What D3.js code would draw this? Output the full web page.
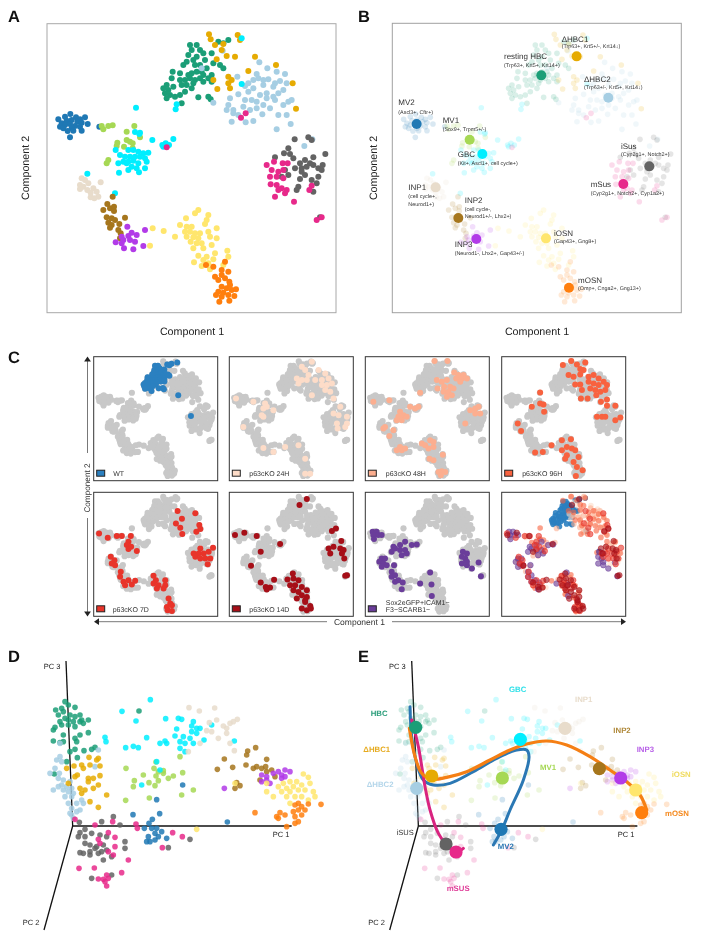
<!DOCTYPE html>
<html><head><meta charset="utf-8">
<script src="https://d3js.org/d3.v7.min.js"></script>
<style>html,body{margin:0;padding:0;background:#fff}svg{display:block;filter:blur(.35px)}text{font-family:"Liberation Sans",Arial,sans-serif;text-rendering:geometricPrecision}</style>
</head><body><svg id="c" width="704" height="940"></svg>
<script>
// ---- t-SNE embedding, per cluster
const tsneHBC=[[570,135],[590,135],[575,150],[600,150],[565,165],[590,170],[610,160],[635,160],[580,180],[560,185],[550,195],[585,195],[600,195],[615,180],[640,190],[660,195],[670,205],[620,205],[605,215],[590,215],[575,220],[565,225],[540,220],[518,215],[515,235],[540,240],[555,240],[570,235],[585,240],[600,235],[610,225],[635,225],[625,235],[610,245],[580,250],[560,255],[545,255],[575,265],[520,260],[500,255],[490,265],[505,270],[495,280],[510,285],[525,290],[540,285],[555,275],[595,292],[625,290],[632,298],[545,310],[635,245],[655,125],[670,130],[685,120],[500,295]];
const tsneHBC1=[[627,103],[632,118],[645,135],[670,132],[713,105],[720,120],[665,150],[680,168],[705,170],[650,178],[765,170],[828,195],[745,213],[640,240],[685,230],[695,240],[685,250],[690,265],[652,267],[878,250],[888,326]];
const tsneHBC2=[[668,152],[778,187],[605,205],[712,230],[802,205],[830,215],[855,222],[770,222],[760,240],[745,250],[735,258],[775,235],[790,240],[805,238],[825,250],[840,243],[860,250],[820,260],[790,255],[760,265],[745,275],[715,283],[690,295],[780,285],[800,280],[820,290],[835,280],[850,270],[800,295],[770,305],[755,300],[735,300],[640,308],[685,315],[730,320],[700,330],[680,330],[700,340],[715,345],[750,330],[770,325],[790,315],[810,325],[825,300],[850,315],[865,305],[875,300],[787,343],[835,345],[860,345],[695,365],[737,367],[760,363],[830,388],[872,372],[913,438],[937,418]];
const tsneMV2=[[175,358],[195,350],[211,342],[228,352],[240,358],[255,352],[185,370],[200,362],[215,360],[232,365],[245,368],[263,372],[180,380],[195,375],[210,372],[225,378],[240,380],[190,385],[215,385],[203,393],[220,392],[245,392],[210,412],[298,380]];
const tsneMV1=[[305,378],[310,388],[325,378],[338,376],[403,378],[380,395],[352,428],[350,438],[380,420],[390,425],[372,440],[398,430],[420,412],[325,480],[320,490],[398,445]];
const tsneGBC=[[408,323],[530,313],[527,328],[725,115],[725,252],[262,521],[345,580],[405,396],[420,398],[418,402],[457,420],[520,417],[487,435],[497,430],[507,435],[490,440],[347,450],[360,465],[385,450],[400,450],[415,455],[430,460],[445,458],[375,470],[390,470],[405,470],[420,470],[435,475],[370,485],[385,485],[400,482],[415,490],[440,485],[355,490],[380,490],[395,500],[410,505],[385,510],[357,518],[417,517],[435,505]];
const tsneINP1=[[245,535],[255,540],[240,555],[250,560],[265,550],[240,567],[262,570],[280,565],[272,578],[290,575],[272,592],[295,590],[283,595],[302,547]];
const tsneINP2=[[338,590],[322,612],[310,630],[330,625],[342,620],[342,633],[320,652],[335,655],[345,660],[375,653],[325,668],[335,675],[330,683],[358,672],[355,690],[362,700],[360,715]];
const tsneINP3=[[382,680],[435,690],[395,698],[410,705],[365,710],[385,708],[370,720],[390,720],[405,725],[347,727],[365,730],[372,745],[400,748],[430,738]];
const tsneIOSN=[[595,630],[585,640],[558,655],[625,645],[620,660],[615,672],[540,675],[458,685],[491,693],[450,737],[560,680],[575,680],[555,695],[570,695],[585,700],[600,700],[625,695],[650,685],[525,710],[560,710],[580,712],[595,715],[630,710],[650,715],[572,725],[590,730],[605,730],[580,745],[610,745],[635,735],[682,752],[645,760],[595,767],[620,770],[640,778],[685,770],[582,787],[610,780],[625,790],[605,798],[630,808],[670,795]];
const tsneMOSN=[[675,785],[618,795],[640,800],[665,810],[685,815],[645,830],[665,825],[675,835],[655,840],[688,845],[690,855],[665,860],[680,865],[655,875],[670,878],[695,870],[708,868],[648,885],[665,890],[685,885],[703,888],[688,902],[658,905]];
const tsneMSUS=[[723,353],[737,340],[500,442],[800,495],[822,485],[848,490],[863,490],[815,510],[835,515],[850,510],[810,530],[830,530],[850,535],[812,553],[830,555],[845,565],[860,570],[835,570],[825,590],[855,580],[935,557],[928,570],[882,605],[950,660],[965,652]];
const tsneISUS=[[884,418],[925,412],[935,420],[865,445],[852,460],[870,462],[880,475],[825,472],[940,472],[976,462],[915,480],[930,490],[900,490],[885,505],[905,505],[920,500],[940,495],[955,505],[968,495],[965,510],[855,510],[845,530],[865,525],[905,515],[915,525],[900,537],[935,540],[955,530],[950,550],[895,560],[890,570],[940,575],[960,652]];
const tsneOrder=[tsneHBC,tsneHBC2,tsneHBC1,tsneMV2,tsneMV1,tsneGBC,tsneINP1,tsneINP2,tsneINP3,tsneIOSN,tsneMOSN,tsneISUS,tsneMSUS];
const orderColors=["#1b9e77","#a6cee3","#e6ab02","#1f78b4","#a6d854","#00eeff","#e8dccb","#a6761d","#b23be8","#ffe66d","#ff7f0e","#636363","#e7298a"];
// cluster centres on the embedding, same order
const tsneCentres=[[588,226],[789,293],[694,169],[214,372],[373,419],[411,462],[271,562],[339,654],[393,717],[602,715],[671,863],[912,499],[834,552]];
// ---- experimental conditions on the embedding
const wtExtra=[[725,111],[732,341],[821,486]];
const ko24=[[905,65],[935,50],[915,75],[925,90],[890,100],[905,105],[920,105],[945,105],[895,115],[955,75],[975,85],[965,105],[985,100],[965,120],[980,120],[995,115],[975,135],[990,140],[935,150],[1000,160],[1020,185],[1000,205],[1015,210],[1040,215],[1040,235],[1010,235],[1012,250],[1035,245],[708,160],[760,170],[795,175],[790,190],[800,185],[820,195],[785,210],[790,215],[730,245],[790,308],[820,320],[855,305],[895,300],[915,340],[915,385],[930,385]];
const ko48=[[253,48],[292,48],[312,82],[325,90],[340,90],[318,100],[335,100],[350,100],[330,110],[260,105],[275,110],[290,105],[262,130],[282,125],[300,125],[280,140],[295,140],[310,130],[290,155],[305,150],[210,143],[375,190],[385,185],[360,195],[375,205],[390,205],[345,235],[70,170],[118,165],[150,200],[160,210],[145,215],[170,215],[155,225],[180,185],[205,185],[195,190],[140,225],[100,250],[105,245],[118,272],[130,255],[150,305],[140,315],[155,315],[165,310],[215,295],[225,300],[240,285],[250,290],[235,310],[250,305],[278,328],[238,340],[250,345],[275,378],[265,380],[285,380],[272,390]];
const ko96=[[663,48],[638,60],[680,58],[705,52],[690,72],[700,75],[655,90],[670,95],[690,88],[675,118],[690,118],[715,95],[730,90],[745,100],[760,110],[715,110],[730,115],[745,120],[770,120],[720,130],[735,135],[750,140],[765,135],[695,135],[692,160],[712,160],[752,170],[770,163],[738,150],[770,182],[795,182],[740,215],[755,215],[765,215],[795,225],[810,217],[570,142],[570,175],[580,178],[545,185],[582,200],[503,235],[513,257],[604,300],[555,322],[578,320],[635,285],[662,282],[650,305],[665,310],[635,315],[675,315],[650,330],[645,340],[685,335],[670,350],[680,365],[697,375],[677,392]];
const ko7d=[[532,498],[585,505],[545,521],[527,535],[540,548],[597,540],[600,552],[588,560],[546,567],[297,565],[323,578],[350,573],[365,573],[392,573],[385,590],[380,600],[393,605],[385,612],[410,618],[332,635],[343,645],[335,655],[345,660],[600,610],[580,625],[595,625],[610,625],[625,620],[638,608],[585,635],[600,640],[615,640],[630,640],[622,657],[362,680],[360,695],[370,710],[385,705],[405,707],[375,720],[395,718],[460,692],[467,705],[495,705],[460,715],[475,720],[495,720],[470,730],[490,730],[505,760],[510,775],[500,785],[515,780],[502,795],[515,797]];
const ko14d=[[920,462],[898,480],[1007,550],[995,558],[705,570],[733,563],[770,573],[840,597],[782,620],[753,662],[1023,588],[985,610],[1000,605],[1020,610],[1030,615],[990,625],[1025,625],[1032,640],[1040,690],[1035,692],[782,712],[797,725],[810,727],[800,733],[822,704],[878,685],[862,703],[880,700],[895,705],[870,720],[885,720],[905,725],[880,735],[895,740],[920,735],[905,750],[890,760],[920,755],[915,770],[930,782],[905,790],[920,795],[932,790],[915,765]];
const sox=[[68,560],[80,560],[70,570],[85,570],[95,570],[72,582],[130,605],[125,620],[135,610],[150,600],[165,590],[185,600],[200,598],[150,615],[165,615],[155,630],[170,625],[95,640],[105,640],[88,650],[100,655],[110,660],[95,665],[132,660],[125,680],[125,695],[135,690],[145,705],[135,710],[158,712],[155,732],[240,682],[210,715],[244,718],[245,752],[338,620],[350,625],[335,635],[345,640],[335,655],[350,660],[365,670],[385,652],[392,693],[350,650]];
const condLabels=[["WT"],["p63cKO 24H"],["p63cKO 48H"],["p63cKO 96H"],["p63cKO 7D"],["p63cKO 14D"],["Sox2eGFP+ICAM1−","F3−SCARB1−"]];
const condColors=["#2b80c0","#fddcc8","#fcae8f","#f8623f","#e8342a","#a60f18","#6a3d9a"];
// ---- PCA projection, per cluster
const pcaHBC=[[195,185],[205,195],[185,205],[167,210],[225,202],[190,215],[175,225],[210,225],[225,230],[240,225],[195,235],[180,245],[205,240],[220,245],[245,240],[265,240],[240,245],[165,262],[160,270],[185,255],[205,255],[225,260],[250,250],[265,278],[190,285],[240,285],[225,295],[160,303],[190,305],[230,305],[180,308],[210,335],[225,328],[252,332],[285,322],[275,328],[200,365],[232,353],[163,402],[417,213]];
const pcaHBC1=[[267,352],[295,355],[290,360],[245,375],[250,385],[270,375],[222,378],[200,385],[300,378],[232,405],[225,410],[265,415],[280,415],[300,407],[265,425],[205,430],[295,435],[240,445],[245,460],[255,450],[320,465],[270,485],[295,502],[280,445]];
const pcaHBC2=[[180,350],[170,360],[185,365],[285,380],[165,385],[150,400],[178,400],[175,415],[190,420],[210,425],[185,435],[175,440],[200,440],[215,445],[160,450],[190,450],[205,455],[220,460],[195,470],[215,470],[245,480],[205,490],[230,490],[250,490],[215,505],[240,510],[210,520],[230,515],[215,525],[220,535],[295,330],[180,310]];
const pcaISUS=[[238,547],[305,545],[340,530],[360,555],[255,568],[240,578],[235,590],[275,580],[255,590],[320,590],[300,585],[255,610],[270,615],[290,620],[310,615],[240,638],[250,640],[270,635],[285,625],[270,645],[295,640],[305,635],[320,630],[375,605],[375,625],[335,650],[310,660],[275,715],[335,705],[505,623],[570,598]];
const pcaMSUS=[[225,538],[285,555],[338,545],[408,552],[412,565],[325,578],[345,592],[295,598],[300,610],[345,620],[325,635],[340,645],[385,660],[237,685],[283,684],[365,698],[295,717],[310,718],[320,705],[325,715],[315,725],[320,738],[518,578],[547,590],[487,623]];
const pcaMV2=[[399,524],[479,521],[470,479],[548,435],[682,546],[457,538],[447,550],[433,565],[455,565],[470,565],[485,575],[500,595],[465,580],[445,590],[475,590],[440,605],[450,605],[465,600]];
const pcaMV1=[[378,385],[468,366],[462,385],[475,395],[490,400],[430,405],[468,408],[520,408],[505,415],[548,398],[403,422],[447,428],[475,422],[400,440],[465,437],[580,450],[545,465],[377,481],[448,474],[540,350],[490,392]];
const pcaGBC=[[451,179],[366,214],[408,243],[497,236],[535,235],[545,238],[580,245],[590,265],[575,258],[600,265],[530,267],[575,275],[590,280],[315,292],[318,305],[440,293],[525,288],[550,290],[570,295],[495,303],[480,310],[500,310],[540,305],[555,310],[580,310],[612,300],[703,303],[377,323],[400,319],[415,323],[540,325],[555,335],[470,365],[480,390],[425,435],[635,255]];
const pcaINP1=[[567,203],[598,213],[644,204],[628,248],[650,240],[712,238],[700,245],[690,250],[670,258],[680,265],[620,272],[635,275],[680,280],[655,295],[690,310],[600,310],[703,332],[565,335]];
const pcaINP2=[[743,333],[767,323],[740,345],[673,357],[800,358],[738,375],[770,380],[785,385],[797,380],[698,382],[652,388],[800,395],[815,390],[760,385],[825,410],[710,428],[720,437],[705,445],[780,420]];
const pcaINP3=[[673,445],[855,390],[870,395],[835,395],[785,405],[800,410],[820,400],[845,405],[855,410],[800,420],[810,430],[785,425],[845,415]];
const pcaIOSN=[[910,402],[925,412],[930,430],[705,430],[590,568],[870,425],[890,425],[850,430],[835,440],[860,445],[880,440],[905,435],[845,455],[870,455],[895,450],[915,450],[940,455],[800,455],[820,470],[860,470],[885,470],[905,470],[945,470],[925,480],[870,490],[800,430]];
const pcaMOSN=[[963,493],[765,518],[925,492],[895,490],[885,495],[905,500],[895,510],[915,510],[880,515],[840,518],[830,530],[855,525],[885,530],[905,525],[835,535],[895,545],[860,560],[885,550]];
const pcaOrder=[pcaHBC,pcaHBC2,pcaHBC1,pcaMV2,pcaMV1,pcaGBC,pcaINP1,pcaINP2,pcaINP3,pcaIOSN,pcaMOSN,pcaISUS,pcaMSUS];
const pcaCentres=[[210,262],[213,445],[258,408],[466,568],[470,414],[524,298],[658,265],[761,386],[825,414],[870,450],[888,518],[301,612],[331,636]];
// lineage curves in PCA projection
const trajMV=[[193,200],[198,290],[213,370],[233,420],[263,435],[313,430],[383,395],[453,355],[513,330],[543,330],[550,350],[533,420],[493,510],[468,570],[443,615]];
const trajSus=[[198,240],[218,320],[238,440],[253,510],[278,580],[303,615],[331,636],[353,625]];
const trajOSN=[[191,265],[208,350],[228,400],[258,418],[303,412],[363,395],[433,360],[493,330],[543,312],[603,303],[663,315],[733,350],[793,390],[843,425],[883,465],[903,510]];
// ---- label texts
const bNames=["resting HBC","ΔHBC1","ΔHBC2","MV2","MV1","GBC","INP1","INP2","INP3","iOSN","mOSN","iSus","mSus"];
const bSubs=[["(Trp63+, Krt5+, Krt14+)"],["(Trp63+, Krt5+/-, Krt14↓)"],["(Trp63+/-, Krt5+, Krt14↓)"],["(Ascl3+, Cftr+)"],["(Sox9+, Trpm5+/-)"],["(Kit+, Ascl1+, cell cycle+)"],["(cell cycle+,","Neurod1+)"],["(cell cycle-,","Neurod1+/-, Lhx2+)"],["(Neurod1-, Lhx2+, Gap43+/-)"],["(Gap43+, Gng8+)"],["(Omp+, Cnga2+, Gng13+)"],["(Cyp2g1+, Notch2+)"],["(Cyp2g1+, Notch2+, Cyp1a2+)"]];
const eNames=["HBC","ΔHBC1","ΔHBC2","GBC","INP1","INP2","INP3","iOSN","mOSN","MV1","MV2","mSUS"];
const eColors=["#2a9d7a","#e6ab20","#b4d6ea","#2fe0e8","#e8dccb","#b08a3c","#b860e8","#f0dc60","#f58a20","#a6d854","#2b78b4","#e0409a"];

const svg=d3.select("#c");
const x0=d3.scaleLinear().domain([141,1008]);
const y0=d3.scaleLinear().domain([71,938]);
function dots(g,pts,x,y,r,fill,op){
  g.append("g").selectAll("circle").data(pts).join("circle")
   .attr("cx",d=>x(d[0])).attr("cy",d=>y(d[1])).attr("r",r).attr("fill",fill).attr("fill-opacity",op==null?1:op);
}
function txt(g,x,y,s,size,o={}){
  return g.append("text").attr("x",x).attr("y",y).attr("font-size",size).attr("fill",o.fill||"#222")
   .attr("font-weight",o.weight||null).attr("text-anchor",o.anchor||"start").attr("transform",o.rot?`rotate(${o.rot} ${x} ${y})`:null).text(s);
}
function frame(g,x,y,w,h,c,sw){g.append("rect").attr("x",x).attr("y",y).attr("width",w).attr("height",h).attr("fill","none").attr("stroke",c).attr("stroke-width",sw);}
// panel letters
[["A",8,22],["B",358,22],["C",8,363],["D",8,662],["E",358,662]].forEach(p=>txt(svg,p[1],p[2],p[0],16.5,{weight:"bold",fill:"#111"}));

// ---- A
const xA=x0.copy().range([47,336]),yA=y0.copy().range([23.7,312.7]);
const gA=svg.append("g");
tsneOrder.forEach((p,i)=>dots(gA,p,xA,yA,3,orderColors[i]));
frame(gA,47,23.7,289,289,"#a8a8a8",1);
txt(gA,192,335,"Component 1",10.7,{anchor:"middle"});
txt(gA,29,168,"Component 2",10.7,{anchor:"middle",rot:-90});

// ---- B
const xB=x0.copy().range([392.3,681.3]),yB=yA;
const gB=svg.append("g");
tsneOrder.forEach((p,i)=>dots(gB,p,xB,yB,2.8,orderColors[i],0.17));
tsneOrder.forEach((p,i)=>dots(gB,[tsneCentres[i]],xB,yB,5,orderColors[i]));
frame(gB,392.3,23.3,289,289.4,"#a0a0a0",1);
txt(gB,537,335,"Component 1",10.7,{anchor:"middle"});
txt(gB,376.5,168,"Component 2",10.7,{anchor:"middle",rot:-90});
// label anchors: [x, nameBaseline, first sub baseline]  (crop coordinates)
const anchors=[[462,178,200],[635,125,145],[702,246,268],[145,315,343],[278,370,392],[323,472,495],[175,570,595],[344,610,633],[314,742,765],[612,708,730],[684,848,870],[813,447,468],[722,562,585]];
bNames.forEach((n,i)=>{
  const a=anchors[i],px=350+a[0]/3;
  txt(gB,px,a[1]/3,n,8,{fill:"#333"});
  bSubs[i].forEach((s,j)=>txt(gB,px,(a[2]+j*22)/3,s,5.4,{fill:"#333"}));
});

// ---- C
const allT=tsneOrder.flat();
const cond=[tsneHBC.concat(wtExtra),ko24,ko48,ko96,ko7d,ko14d,sox];
const origin=[null,[688,35],[46,35],[455,35],[281,442],[688,442],[46,442]];
const panelX=[93.7,229.3,365.3,501.7],panelY=[356.7,492.3],pw=124;
function condScales(i,px,py){
  if(i===0) return [x0.copy().range([px,px+pw]),y0.copy().range([py,py+pw])];
  const o=origin[i];
  return [d3.scaleLinear().domain([o[0],o[0]+371]).range([px,px+pw]),d3.scaleLinear().domain([o[1],o[1]+371]).range([py,py+pw])];
}
const gC=svg.append("g");
const panelOrder=[[0,0,0],[1,1,0],[2,2,0],[3,3,0],[4,0,1],[5,1,1],[6,2,1]];
panelOrder.forEach(([i,cx,cy])=>{
  const px=panelX[cx],py=panelY[cy];
  const bx=x0.copy().range([px,px+pw]),by=y0.copy().range([py,py+pw]);
  dots(gC,allT,bx,by,3.1,"#c8c8c8");
  const [sx,sy]=condScales(i,px,py);
  dots(gC,cond[i],sx,sy,3,condColors[i]);
  frame(gC,px,py,pw,pw,"#333",1);
  gC.append("rect").attr("x",px+3).attr("y",py+113.5).attr("width",8).attr("height",6).attr("fill",condColors[i]).attr("stroke","#222").attr("stroke-width",1);
  const lab=condLabels[i];
  const tx=px+[19.5,20,20.5,20.5,19,20,20.5][i];
  if(lab.length===1) txt(gC,tx,py+119.5,lab[0],7,{fill:"#333"});
  else lab.forEach((s,j)=>txt(gC,tx,py+112.5+j*7.6,s,7,{fill:"#333"}));
});
// overlay panel
{
  const px=panelX[3],py=panelY[1];
  [0,1,2,3,6,4,5].forEach(i=>{
    const [sx,sy]=condScales(i,px,py);
    gC.append("g").selectAll("circle").data(cond[i]).join("circle")
      .attr("cx",d=>sx(d[0])).attr("cy",d=>sy(d[1])).attr("r",2.8).attr("fill",condColors[i]).attr("fill-opacity",i===0?0.9:0.6)
      .attr("stroke",i>=4?condColors[i]:"none").attr("stroke-opacity",.8).attr("stroke-width",.6);
  });
  frame(gC,px,py,pw,pw,"#333",1);
}
// arrows
function arrow(g,x,y,dir){const s=3.4,l=5;
  const p={up:[[x,y],[x-s,y+l],[x+s,y+l]],down:[[x,y],[x-s,y-l],[x+s,y-l]],left:[[x,y],[x+l,y-s],[x+l,y+s]],right:[[x,y],[x-l,y-s],[x-l,y+s]]}[dir];
  g.append("path").attr("d",d3.line()(p)+"Z").attr("fill","#222");
}
function hair(g,a,b,c,d){g.append("line").attr("x1",a).attr("y1",b).attr("x2",c).attr("y2",d).attr("stroke","#555").attr("stroke-width",.8);}
hair(gC,87.5,360,87.5,453);hair(gC,87.5,518,87.5,612);
hair(gC,98,621.7,327,621.7);hair(gC,392,621.7,622,621.7);
arrow(gC,87.5,356.5,"up");arrow(gC,87.5,616.5,"down");arrow(gC,94,621.7,"left");arrow(gC,626,621.7,"right");
txt(gC,90,488,"Component 2",8.2,{anchor:"middle",rot:-90,fill:"#333"});
txt(gC,359.5,624.5,"Component 1",8.5,{anchor:"middle",fill:"#333"});

// ---- D / E
const yP=d3.scaleLinear().domain([0,900]).range([640,940]);
const xD=d3.scaleLinear().domain([0,1050]).range([0,350]);
const xE=d3.scaleLinear().domain([0,1050]).range([345.7,695.7]);
function pcAxes(g,x){
  const seg=(a,b)=>g.append("path").attr("d",d3.line()([[x(a[0]),yP(a[1])],[x(b[0]),yP(b[1])]])).attr("stroke","#111").attr("stroke-width",1.3).attr("fill","none");
  seg([198,63],[218,558]);seg([218,558],[875,558]);seg([218,558],[132,870]);
}
const gD=svg.append("g");
pcAxes(gD,xD);
pcaOrder.forEach((p,i)=>dots(gD,p,xD,yP,2.8,orderColors[i],0.85));
txt(gD,xD(131),yP(88),"PC 3",7.5,{fill:"#222"});
txt(gD,xD(818),yP(590),"PC 1",7.5,{fill:"#222"});
txt(gD,xD(68),yP(856),"PC 2",7.5,{fill:"#222"});

const gE=svg.append("g");
pcAxes(gE,xE);
pcaOrder.forEach((p,i)=>dots(gE,p,xE,yP,2.8,orderColors[i],0.2));
const lin=d3.line().x(d=>xE(d[0])).y(d=>yP(d[1])).curve(d3.curveCatmullRom.alpha(.5));
[[trajMV,"#2b78b4",3],[trajSus,"#d9237f",3],[trajOSN,"#f57f14",3.2]].forEach(t=>
  gE.append("path").attr("d",lin(t[0])).attr("fill","none").attr("stroke",t[1]).attr("stroke-width",t[2]).attr("stroke-linecap","round"));
pcaCentres.forEach((c,i)=>dots(gE,[c],xE,yP,6.6,orderColors[i]));
const eAnchors=[[75,227],[53,335],[63,442],[490,157],[688,185],[803,279],[873,337],[978,412],[958,527],[583,391],[456,627],[303,752]];
eNames.forEach((n,i)=>txt(gE,xE(eAnchors[i][0]),yP(eAnchors[i][1]),n,7.8,{fill:eColors[i],weight:"bold"}));
txt(gE,xE(153),yP(584),"iSUS",7.5,{fill:"#333"});
txt(gE,xE(130),yP(88),"PC 3",7.5,{fill:"#222"});
txt(gE,xE(816),yP(590),"PC 1",7.5,{fill:"#222"});
txt(gE,xE(68),yP(856),"PC 2",7.5,{fill:"#222"});
</script></body></html>
